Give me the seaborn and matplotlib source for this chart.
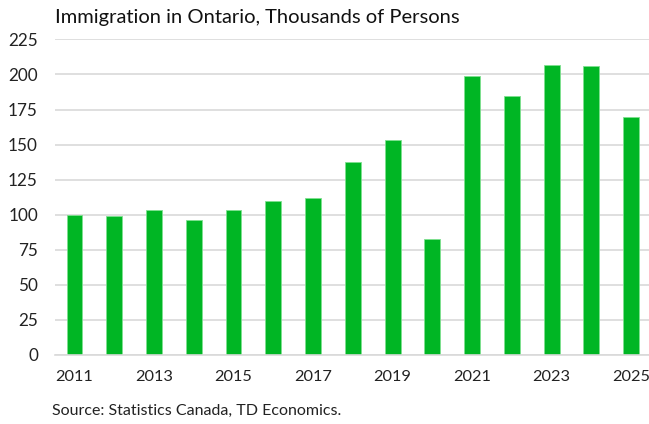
import matplotlib
matplotlib.use("Agg")
import matplotlib.pyplot as plt
import seaborn as sns
import pandas as pd

years = [2011, 2012, 2013, 2014, 2015, 2016, 2017, 2018, 2019, 2020, 2021, 2022, 2023, 2024, 2025]
immigrants = [99.5, 99.0, 103.5, 96.0, 103.5, 110.0, 112.0, 137.5, 153.0, 82.6, 199.2, 185.0, 206.8, 205.8, 169.5]
y_ticks = [0, 25, 50, 75, 100, 125, 150, 175, 200, 225]
title = "Immigration in Ontario, Thousands of Persons"
source = "Source: Statistics Canada, TD Economics."

sns.set_theme(style="white")
plt.rcParams['font.family'] = ['Lato', 'DejaVu Sans']

df = pd.DataFrame({"year": [str(y) for y in years], "value": immigrants})

fig = plt.figure(figsize=(6.49, 4.24), dpi=100)
ax = fig.add_axes([0.0841, 0.163, 0.919, 0.744])
sns.barplot(data=df, x="year", y="value", color="#00B624", saturation=1,
            width=0.40, edgecolor="#7ee08f", linewidth=0.6, ax=ax)

ax.set_ylim(0, 225)
ax.set_xlim(-0.5, len(years) - 0.5)
ax.set_yticks(y_ticks)
ax.set_yticklabels([str(t) for t in y_ticks], fontsize=12.3, color="#222222")
ax.set_xticks(range(len(years)))
ax.set_xticklabels([str(y) if i % 2 == 0 else "" for i, y in enumerate(years)],
                   fontsize=11.8, color="#222222")
ax.tick_params(axis="both", length=0)
ax.tick_params(axis="x", pad=11)
ax.tick_params(axis="y", pad=12)
ax.yaxis.grid(True, color="#d9d9d9", linewidth=1.2)
ax.set_axisbelow(True)
for s in ["top", "right", "left"]:
    ax.spines[s].set_visible(False)
ax.spines["bottom"].set_color("#d9d9d9")
ax.spines["bottom"].set_linewidth(1.2)
ax.set_xlabel("")
ax.set_ylabel("")

fig.text(0.0847, 0.958, title, fontsize=14.5, color="#111111", va="center", ha="left")
fig.text(0.0801, 0.031, source, fontsize=11.5, color="#222222", va="center", ha="left")

fig.savefig("out.png", dpi=100)
